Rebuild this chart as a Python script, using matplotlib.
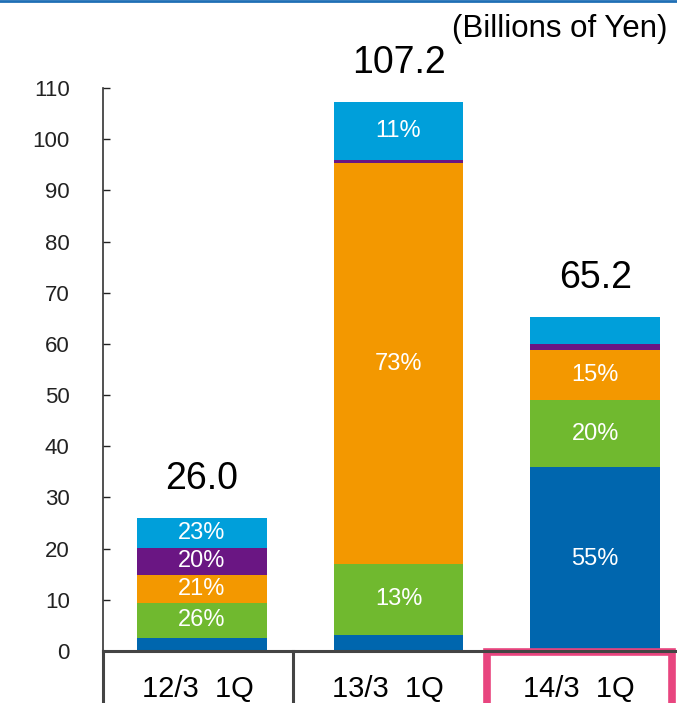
import numpy as np
import matplotlib.pyplot as plt
from matplotlib.patches import Rectangle
from matplotlib.lines import Line2D

plt.rcParams['font.family'] = ['Liberation Sans', 'DejaVu Sans']

# Quarterly values, billions of yen (stacked bottom -> top)
periods = ['12/3  1Q', '13/3  1Q', '14/3  1Q']
totals = [26.0, 107.2, 65.2]
seg_dark_blue = [2.6, 3.2, 35.9]
seg_green = [6.8, 13.8, 13.1]
seg_orange = [5.5, 78.3, 9.9]
seg_purple = [5.2, 0.6, 1.1]
seg_light_blue = [5.9, 11.3, 5.2]

lbl_dark_blue = ['', '', '55%']
lbl_green = ['26%', '13%', '20%']
lbl_orange = ['21%', '73%', '15%']
lbl_purple = ['20%', '', '']
lbl_light_blue = ['23%', '11%', '']

yticks = [0, 10, 20, 30, 40, 50, 60, 70, 80, 90, 100, 110]

W, H = 677, 703
fig = plt.figure(figsize=(W / 100, H / 100), dpi=100)
ax = fig.add_axes([103 / W, 52 / H, 574 / W, 563 / H])

segments = [
    (seg_dark_blue, lbl_dark_blue, '#0066ae'),
    (seg_green, lbl_green, '#70b92f'),
    (seg_orange, lbl_orange, '#f39800'),
    (seg_purple, lbl_purple, '#6a1683'),
    (seg_light_blue, lbl_light_blue, '#009fda'),
]

x = np.arange(len(periods))
bottom = np.zeros(len(periods))
for vals, labels, color in segments:
    vals = np.array(vals)
    ax.bar(x, vals, width=0.66, bottom=bottom, color=color, linewidth=0)
    for xi, b, v, t in zip(x, bottom, vals, labels):
        if t:
            ax.text(xi, b + v / 2, t, ha='center', va='center',
                    color='white', fontsize=17)
    bottom = bottom + vals

for xi, t in zip(x, totals):
    ax.annotate(f'{t:.1f}', (xi, t), xytext=(0, 21), textcoords='offset points',
                ha='center', va='baseline', fontsize=27)

ax.set_xlim(-0.5025, 2.416)
ax.set_ylim(0, 110)
ax.set_yticks(yticks)
ax.set_xticks([])
ax.tick_params(axis='y', direction='in', length=5, width=1, pad=24,
               labelsize=16, colors='#222222')
for s in ['top', 'right', 'bottom']:
    ax.spines[s].set_visible(False)
ax.spines['left'].set_color('#333333')
ax.spines['left'].set_linewidth(1.2)


def fx(px):
    return px / W


def fy(py):
    return 1 - py / H


# Category table under the bars
grid = '#444444'
fig.add_artist(Line2D([fx(103), fx(677)], [fy(651), fy(651)], color=grid, lw=2.2))
for px in [103, 293]:
    fig.add_artist(Line2D([fx(px), fx(px)], [fy(651), fy(710)], color=grid, lw=2.2))
fig.add_artist(Rectangle((fx(486.5), fy(720)), fx(671.5) - fx(486.5), fy(651.5) - fy(720),
                         transform=fig.transFigure, fill=False,
                         edgecolor='#e8457f', lw=5.5))

cell_centers = [198, 388, 579]
for cx, p in zip(cell_centers, periods):
    fig.text(fx(cx), fy(697), p, ha='center', va='baseline', fontsize=21)

fig.text(fx(668), fy(37), '(Billions of Yen)', ha='right', va='baseline', fontsize=22.5)

# Thin rule along the top edge
fig.add_artist(Line2D([0, 1], [fy(1), fy(1)], color='#1f6fb5', lw=2))

fig.savefig('out.png', dpi=100)
